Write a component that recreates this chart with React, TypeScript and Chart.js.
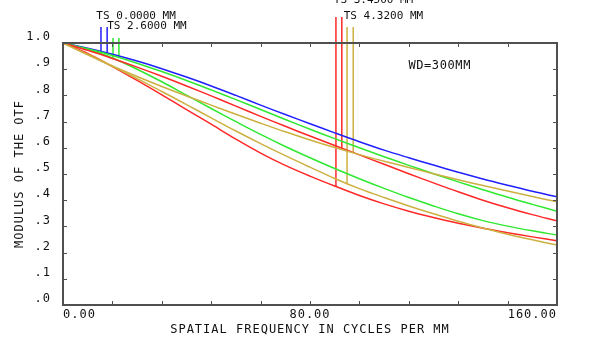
import React, { useEffect, useRef } from 'react';
import { Chart, registerables } from 'chart.js';

Chart.register(...registerables);

// Spatial frequency samples (cycles per mm)
const FREQ = [0, 8, 16, 24, 32, 40, 48, 56, 64, 72, 80, 88, 96, 104, 112, 120, 128, 136, 144, 152, 160];

// Modulus of the OTF per field (T = tangential, S = sagittal)
const BLUE_TS = [1.000, 0.980, 0.957, 0.931, 0.902, 0.870, 0.836, 0.800, 0.763, 0.727, 0.692, 0.657, 0.623, 0.591, 0.562, 0.534, 0.507, 0.481, 0.457, 0.434, 0.413];
const GREEN_T = [1.000, 0.975, 0.943, 0.900, 0.852, 0.801, 0.750, 0.700, 0.651, 0.605, 0.562, 0.521, 0.482, 0.445, 0.410, 0.378, 0.348, 0.322, 0.301, 0.283, 0.267];
const GREEN_S = [1.000, 0.978, 0.952, 0.923, 0.891, 0.857, 0.821, 0.784, 0.746, 0.708, 0.671, 0.635, 0.600, 0.566, 0.533, 0.501, 0.470, 0.440, 0.411, 0.384, 0.358];
const RED_T = [1.000, 0.960, 0.910, 0.857, 0.802, 0.746, 0.690, 0.633, 0.580, 0.533, 0.492, 0.454, 0.418, 0.386, 0.358, 0.334, 0.312, 0.293, 0.276, 0.260, 0.245];
const RED_S = [1.000, 0.972, 0.941, 0.908, 0.873, 0.836, 0.798, 0.759, 0.720, 0.682, 0.645, 0.609, 0.573, 0.537, 0.501, 0.466, 0.432, 0.400, 0.371, 0.345, 0.321];
const YEL_T = [1.000, 0.957, 0.911, 0.864, 0.815, 0.765, 0.714, 0.664, 0.616, 0.570, 0.526, 0.483, 0.444, 0.410, 0.378, 0.348, 0.320, 0.294, 0.270, 0.249, 0.229];
const YEL_S = [1.000, 0.955, 0.912, 0.872, 0.834, 0.798, 0.763, 0.728, 0.694, 0.661, 0.630, 0.601, 0.574, 0.549, 0.525, 0.501, 0.478, 0.456, 0.435, 0.414, 0.394];

// Field markers
const FIELD_LABELS = ['TS 0.0000 MM', 'TS 2.6000 MM', 'TS 3.4500 MM', 'TS 4.3200 MM'];
const FIELD_COLORS = ['#2020ff', '#30e830', '#ff2828', '#ccb040'];
const MARKER_T_FREQ = [12.3, 16.2, 88.4, 92.0];
const MARKER_S_FREQ = [14.3, 18.1, 90.3, 94.0];
const MARKER_TOP = [1.061, 1.019, 1.099, 1.061];
const LABEL_BASE = [1.083, 1.045, 1.141, 1.083];
const LABEL_FREQ = [10.8, 14.3, 87.7, 90.9];

// Axis ticks
const X_TICKS = [0, 16, 32, 48, 64, 80, 96, 112, 128, 144, 160];
const X_LABELED = [0, 80, 160];
const Y_TICKS = [0, 0.1, 0.2, 0.3, 0.4, 0.5, 0.6, 0.7, 0.8, 0.9, 1.0];

const NOTE = 'WD=300MM';
const NOTE_POS = { x: 122, y: 0.912 };

const FONT = '"DejaVu Sans Mono", monospace';

function interp(values: number[], f: number): number {
  for (let i = 0; i < FREQ.length - 1; i++) {
    if (f >= FREQ[i] && f <= FREQ[i + 1]) {
      const t = (f - FREQ[i]) / (FREQ[i + 1] - FREQ[i]);
      return values[i] + t * (values[i + 1] - values[i]);
    }
  }
  return values[values.length - 1];
}

const curve = (vals: number[]) => FREQ.map((f, i) => ({ x: f, y: vals[i] }));

const FIELD_T = [BLUE_TS, GREEN_T, RED_T, YEL_T];
const FIELD_S = [BLUE_TS, GREEN_S, RED_S, YEL_S];

const framePlugin = {
  id: 'zemaxFrame',
  beforeDraw(chart: any) {
    const ctx = chart.ctx;
    ctx.save();
    ctx.fillStyle = '#ffffff';
    ctx.fillRect(0, 0, chart.width, chart.height);
    ctx.restore();
    ctx.letterSpacing = '1px';
  },
  afterDatasetsDraw(chart: any) {
    const { ctx, chartArea: a } = chart;
    const xs = chart.scales.x;
    const ys = chart.scales.y;
    ctx.save();
    ctx.strokeStyle = '#505050';
    ctx.lineWidth = 2;
    ctx.strokeRect(a.left, a.top, a.right - a.left, a.bottom - a.top);
    ctx.lineWidth = 1;
    ctx.beginPath();
    X_TICKS.forEach((v) => {
      const px = Math.round(xs.getPixelForValue(v)) + 0.5;
      ctx.moveTo(px, a.bottom);
      ctx.lineTo(px, a.bottom - 4);
      ctx.moveTo(px, a.top);
      ctx.lineTo(px, a.top + 4);
    });
    Y_TICKS.forEach((v) => {
      const py = Math.round(ys.getPixelForValue(v)) + 0.5;
      ctx.moveTo(a.left, py);
      ctx.lineTo(a.left + 4, py);
      ctx.moveTo(a.right, py);
      ctx.lineTo(a.right - 4, py);
    });
    ctx.stroke();

    ctx.letterSpacing = '0px';
    ctx.fillStyle = '#111';
    ctx.font = '11px ' + FONT;
    ctx.textAlign = 'left';
    ctx.textBaseline = 'bottom';
    FIELD_LABELS.forEach((t, i) => {
      ctx.fillText(t, xs.getPixelForValue(LABEL_FREQ[i]), ys.getPixelForValue(LABEL_BASE[i]));
    });

    ctx.letterSpacing = '0.6px';
    ctx.font = '12px ' + FONT;
    ctx.textAlign = 'center';
    ctx.textBaseline = 'middle';
    ctx.fillText(NOTE, xs.getPixelForValue(NOTE_POS.x), ys.getPixelForValue(NOTE_POS.y));
    ctx.restore();
  },
};

export default function App() {
  const ref = useRef<HTMLCanvasElement | null>(null);

  useEffect(() => {
    if (!ref.current) return;
    const datasets: any[] = [];
    const addCurve = (vals: number[], color: string) =>
      datasets.push({
        data: curve(vals),
        borderColor: color,
        borderWidth: 1.5,
        pointRadius: 0,
        tension: 0.35,
        fill: false,
      });
    addCurve(YEL_T, FIELD_COLORS[3]);
    addCurve(YEL_S, FIELD_COLORS[3]);
    addCurve(RED_T, FIELD_COLORS[2]);
    addCurve(RED_S, FIELD_COLORS[2]);
    addCurve(GREEN_T, FIELD_COLORS[1]);
    addCurve(GREEN_S, FIELD_COLORS[1]);
    addCurve(BLUE_TS, FIELD_COLORS[0]);

    FIELD_LABELS.forEach((_, i) => {
      [
        [MARKER_T_FREQ[i], FIELD_T[i]],
        [MARKER_S_FREQ[i], FIELD_S[i]],
      ].forEach(([f, vals]: any) => {
        datasets.push({
          data: [
            { x: f, y: interp(vals, f) },
            { x: f, y: MARKER_TOP[i] },
          ],
          borderColor: FIELD_COLORS[i],
          borderWidth: 1.5,
          pointRadius: 0,
          clip: false,
          fill: false,
        });
      });
    });

    const chart = new Chart(ref.current, {
      type: 'line',
      data: { datasets },
      plugins: [framePlugin],
      options: {
        animation: false,
        responsive: false,
        maintainAspectRatio: false,
        devicePixelRatio: 1,
        layout: { padding: { top: 43, right: 45, left: 0, bottom: 0 } },
        plugins: { legend: { display: false }, tooltip: { enabled: false } },
        scales: {
          x: {
            type: 'linear',
            min: 0,
            max: 160,
            grid: { display: false, drawTicks: false },
            border: { display: false },
            afterFit: (s: any) => {
              s.height = 34;
            },
            afterBuildTicks: (s: any) => {
              s.ticks = X_TICKS.map((v) => ({ value: v }));
            },
            ticks: {
              autoSkip: false,
              maxRotation: 0,
              align: 'inner',
              padding: 3,
              color: '#111',
              font: { family: FONT, size: 12 },
              callback: (v: any) => (X_LABELED.includes(v) ? Number(v).toFixed(2) : ''),
            },
            title: {
              display: true,
              text: 'SPATIAL FREQUENCY IN CYCLES PER MM',
              color: '#111',
              font: { family: FONT, size: 12 },
              padding: { top: 0, bottom: 2 },
            },
          },
          y: {
            min: 0,
            max: 1,
            grid: { display: false, drawTicks: false },
            border: { display: false },
            afterFit: (s: any) => {
              s.width = 63;
            },
            afterBuildTicks: (s: any) => {
              s.ticks = Y_TICKS.map((v) => ({ value: v }));
            },
            ticks: {
              padding: 12,
              labelOffset: -6,
              color: '#111',
              font: { family: FONT, size: 12 },
              callback: (v: any) => {
                const n = Math.round(Number(v) * 10);
                return n === 10 ? '1.0' : '.' + n;
              },
            },
            title: {
              display: true,
              text: 'MODULUS OF THE OTF',
              color: '#111',
              font: { family: FONT, size: 12 },
              padding: { top: 13, bottom: 0 },
            },
          },
        },
      },
    });
    return () => chart.destroy();
  }, []);

  return (
    <div style={{ position: 'fixed', left: 0, top: 0, width: 602, height: 339, background: '#fff' }}>
      <canvas ref={ref} width={602} height={339} style={{ width: 602, height: 339, display: 'block' }} />
    </div>
  );
}
